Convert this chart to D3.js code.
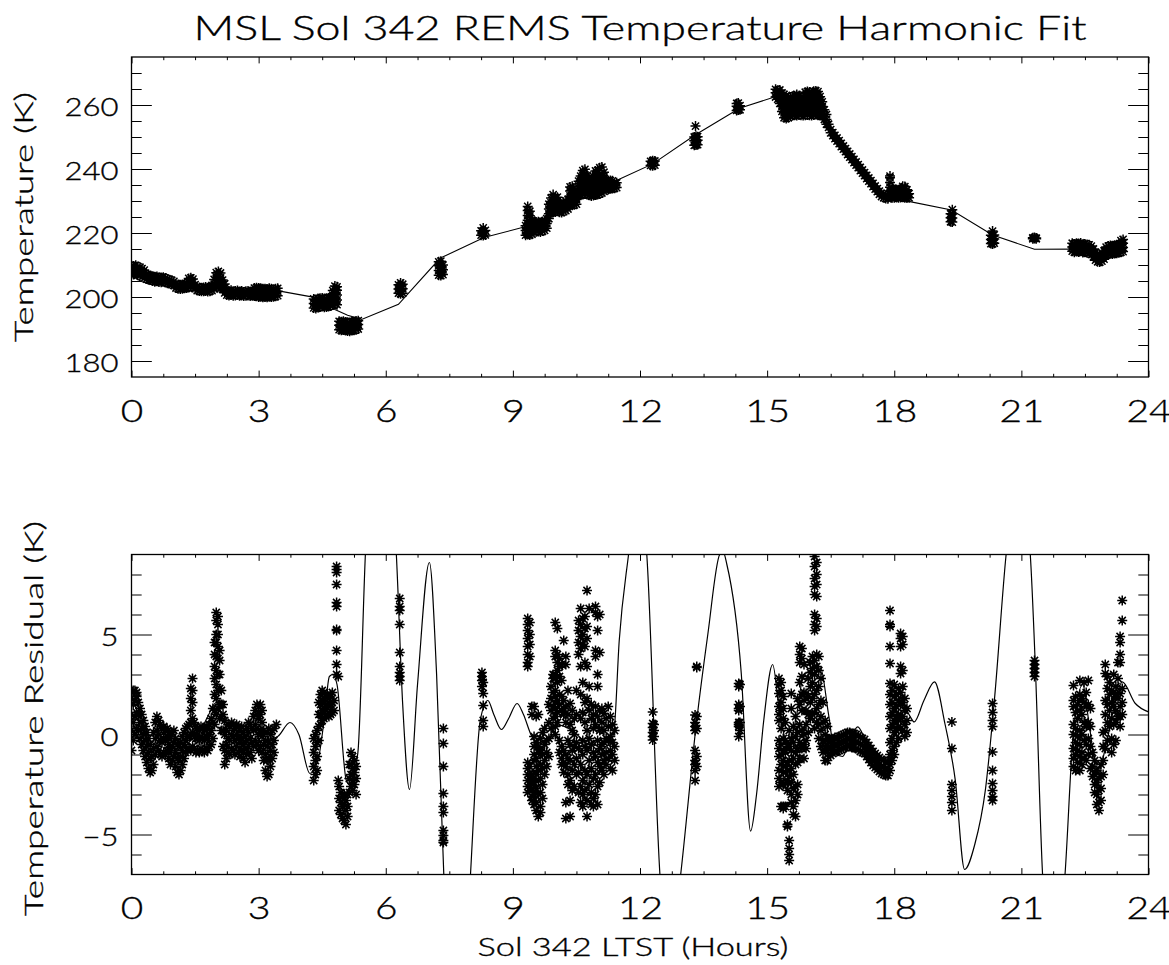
<!DOCTYPE html>
<html>
<head>
<meta charset="utf-8">
<script src="https://cdn.jsdelivr.net/npm/d3@7"></script>
<style>
  html, body { margin: 0; padding: 0; background: #fff; }
  svg { display: block; }
  text { font-family: "Lato", "DejaVu Sans", sans-serif; font-weight: 300; fill: #000; stroke: #000; stroke-width: 0.35px; }
</style>
</head>
<body>
<svg id="chart" width="1169" height="965"></svg>
<script>
// ---- Sol 342 REMS ground temperature samples: [hour, K, K, ...] per sampling instant
const tempRows = [
  [0.00,207.2,208.6,209.8],[0.05,207.0,208.5,209.7],[0.10,207.3,208.8,209.9],[0.15,206.8,208.2,209.5],
  [0.20,206.6,208.0,209.3],[0.25,206.3,207.6,208.9],[0.30,205.9,207.3,208.4],[0.35,205.6,207.0],
  [0.40,205.4,206.8],[0.45,205.3,206.7],[0.50,205.0,206.5],[0.55,204.8,206.3],[0.60,204.9,206.4],
  [0.65,204.7,206.2],[0.70,204.6,206.1],[0.75,204.8,206.2],[0.80,204.5,205.9],[0.85,204.3,205.6],
  [0.90,204.2,205.4],[0.95,203.9,205.2],[1.00,203.6,204.9],[1.05,202.8,204.2],[1.10,202.6,203.9],
  [1.15,202.5,203.8],[1.20,202.6,203.9],[1.25,202.7,204.0],[1.30,202.8,204.1],[1.35,203.0,204.6,205.8],
  [1.40,203.2,204.8,206.0],[1.45,203.0,204.5,205.6],[1.50,202.6,203.9],[1.55,202.0,203.2],[1.60,201.9,203.0],
  [1.65,201.8,202.9],[1.70,201.8,203.0],[1.75,201.9,203.1],[1.80,201.7,202.9],[1.85,201.8,203.0],
  [1.90,202.0,203.6],[1.95,202.5,204.0,205.5],[2.00,203.0,204.6,206.2,207.6],[2.05,203.2,204.8,206.4,208.0],
  [2.10,202.8,204.4,206.0,207.5],[2.15,202.4,203.9,205.3],[2.20,201.3,202.8,204.1],[2.25,200.6,202.0],
  [2.30,200.5,201.9],[2.35,200.6,202.1],[2.40,200.4,201.8],[2.45,200.5,201.9],[2.50,200.6,202.0],
  [2.55,200.4,201.7],[2.60,200.5,201.9],[2.65,200.3,201.6],[2.70,200.4,201.8],[2.75,200.5,201.9],
  [2.80,200.3,201.7],[2.85,200.4,201.8],[2.90,200.3,201.7,202.8],[2.95,200.2,201.6,202.9],
  [3.00,200.0,201.5,202.8],[3.05,200.1,201.6,202.7],[3.10,199.9,201.4,202.6],[3.15,200.0,201.5,202.6],
  [3.20,199.9,201.3,202.5],[3.25,200.1,201.5,202.7],[3.30,200.0,201.4,202.6],[3.35,200.1,201.5,202.4],
  [3.40,200.2,201.6,202.6],[3.45,200.4,201.8,202.7],
  [4.30,196.6,198.0,199.4],[4.35,196.4,197.8,199.2],[4.40,196.7,198.1,199.5],[4.45,196.9,198.3,199.6],
  [4.50,197.0,198.4,199.7],[4.55,196.8,198.2,199.5],[4.60,196.9,198.3,199.6],[4.65,197.0,198.4,199.7],
  [4.70,197.2,198.6,199.8],[4.75,197.5,199.0,200.5,202.0],[4.80,197.8,199.3,200.8,202.3,203.4],
  [4.85,197.6,199.1,200.6,202.1,203.2],
  [4.90,189.8,191.2,192.4],[4.95,189.6,191.0,192.3],[5.00,189.7,191.1,192.4],[5.05,189.5,190.9,192.2],
  [5.10,189.4,190.8,192.1],[5.15,189.3,190.7,192.0],[5.20,189.5,190.9,192.2],[5.25,189.6,191.0,192.3],
  [5.30,189.8,191.2,192.5],[5.35,190.0,191.4,192.6],
  [6.30,201.2,202.5,203.8],[6.35,201.0,202.3,203.6,204.4],[6.40,201.2,202.6,204.0],
  [7.25,206.8,208.3,209.8,211.0],[7.30,206.7,208.2,209.7,211.2],[7.35,207.0,208.5,210.0],
  [8.25,219.3,220.7],[8.30,219.2,220.6,221.6],[8.35,219.4,220.8],
  [9.30,219.3,220.8,222.3],[9.35,219.5,221.0,222.5,224.0,225.5,227.0,228.3],
  [9.40,219.4,220.9,222.4,223.9,225.4,226.8],[9.45,219.6,221.1,222.6,224.0],
  [9.50,220.3,221.8,223.3],[9.55,220.4,221.9,223.4],[9.60,220.5,222.0,223.5],[9.65,220.3,221.8,223.3],
  [9.70,220.6,222.1,223.6],[9.75,220.8,222.3,223.8],[9.80,221.5,223.0,224.5],
  [9.85,224.5,226.0,227.5,229.0],[9.90,226.4,227.9,229.4,230.9],[9.95,226.5,228.0,229.5,231.0,232.0],
  [10.00,226.6,228.1,229.6,231.1],[10.05,226.8,228.3,229.8,231.2],[10.10,226.5,228.0,229.3],
  [10.15,226.4,227.9,229.0],[10.20,226.7,228.2,229.6],[10.25,227.0,228.5,230.0],[10.30,227.5,229.0,230.5],
  [10.35,228.6,230.1,231.6,233.1,234.4],[10.40,228.7,230.2,231.7,233.2,234.6],[10.45,228.8,230.3,231.8,233.3],
  [10.50,229.0,230.5,232.0],[10.55,231.7,233.2,234.7,236.2],[10.60,231.8,233.3,234.8,236.3,237.8],
  [10.65,232.0,233.5,235.0,236.5,238.0,239.5],[10.70,232.2,233.7,235.2,236.7,238.2,239.9],
  [10.75,232.0,233.5,235.0,236.5,238.0],[10.80,231.8,233.3,234.8,236.3],[10.85,231.6,233.1,234.6,236.1],
  [10.90,231.7,233.2,234.7,236.2,237.7],[10.95,231.9,233.4,234.9,236.4,237.9,239.4],
  [11.00,232.0,233.5,235.0,236.5,238.0,239.6],[11.05,232.2,233.7,235.2,236.7,238.3,240.4],
  [11.10,232.5,234.0,235.5,237.0,238.5,240.6],[11.15,233.0,234.5,236.0,237.5,239.0],
  [11.20,233.5,235.0,236.3],[11.25,233.6,235.1,236.4],[11.30,233.8,235.3,236.4],[11.35,233.9,235.4,236.3],
  [11.40,234.0,235.5],[11.45,234.2,235.7],
  [12.25,241.1,242.4],[12.30,241.0,242.3,242.6],[12.35,241.2,242.5],
  [13.28,247.4,248.8,250.0],[13.31,253.4],[13.32,247.5,248.9,250.2],[13.36,247.6,249.0,250.1],
  [14.28,258.3,259.6,260.5],[14.32,258.4,259.7,260.6],[14.36,258.5,259.8],
  [15.20,262.5,263.8,264.9],[15.25,261.8,263.2,264.6],[15.30,260.5,262.0,263.5,264.7],
  [15.35,258.0,259.5,261.0,262.5,263.8],[15.40,256.0,257.5,259.0,260.5,262.0,263.3],
  [15.45,255.8,257.3,258.8,260.3,261.8,263.0],[15.50,256.0,257.5,259.0,260.5,262.0],
  [15.55,256.5,258.0,259.5,261.0,262.5],[15.60,256.7,258.2,259.7,261.2,262.7],
  [15.65,256.8,258.3,259.8,261.3,262.9],[15.70,256.7,258.2,259.7,261.2,262.8,263.3],
  [15.75,256.9,258.4,259.9,261.4,262.9],[15.80,256.8,258.3,259.8,261.3],
  [15.85,256.7,258.2,259.7,261.2,262.5],[15.90,256.8,258.3,259.8,261.3,262.8,264.0],
  [15.95,256.9,258.4,259.9,261.4,262.9,264.2],[16.00,256.8,258.3,259.8,261.3,262.8,264.1],
  [16.05,256.7,258.2,259.7,261.2,262.7],[16.10,256.9,258.4,259.9,261.4,262.9,264.3],
  [16.15,257.0,258.5,260.0,261.5,263.0,264.4],[16.20,256.8,258.3,259.8,261.3,262.8,264.2],
  [16.25,256.7,258.2,259.7,261.2,262.6],[16.30,256.5,258.0,259.5,261.0],[16.35,255.5,257.0,258.5],
  [16.40,254.0,255.5,257.0],
  [16.45,253.0,254.0],[16.50,251.3,252.3],[16.55,250.4,251.4],[16.60,249.5,250.5],[16.65,248.7,249.7],
  [16.70,247.9,248.9],[16.75,247.0,248.0],[16.80,246.2,247.2],[16.85,245.4,246.4],[16.90,244.5,245.5],
  [16.95,243.7,244.7],[17.00,242.9,243.9],[17.05,242.0,243.0],[17.10,241.2,242.2],[17.15,240.4,241.4],
  [17.20,239.5,240.5],[17.25,238.7,239.7],[17.30,237.9,238.9],[17.35,237.0,238.0],[17.40,236.2,237.2],
  [17.45,235.4,236.4],[17.50,234.5,235.5],[17.55,233.7,234.7],[17.60,232.9,233.9],[17.65,232.1,233.1],
  [17.70,231.4,232.4],[17.75,231.0,232.0],[17.80,230.8,231.8],[17.85,230.7,231.7],
  [17.90,231.3,232.8,234.3,235.8,237.3,237.8],[17.95,231.0,232.5,234.0],[18.00,231.0,232.5,233.5],
  [18.05,231.1,232.4,233.6],[18.10,231.0,232.3,233.5],[18.15,231.1,232.5,233.7],
  [18.20,231.2,232.6,234.0,234.6],[18.25,231.0,232.4,233.8,234.5],[18.30,230.9,232.2,233.5],
  [18.35,231.0,232.3],
  [19.33,223.5,224.8,226.0],[19.37,223.4,224.7,225.9,227.3],
  [20.28,216.7,218.0,219.3],[20.32,216.6,217.9,219.2,220.6],[20.36,216.8,218.1,219.4],
  [21.27,218.2,218.5],[21.31,218.3,218.6],[21.35,218.2,218.4],
  [22.20,214.3,215.6,216.8],[22.25,214.0,215.3,216.6],[22.30,214.2,215.5,216.8],[22.35,214.1,215.4,216.7],
  [22.40,214.3,215.6,216.9],[22.45,213.9,215.2,216.5],[22.50,214.0,215.3,216.6],[22.55,213.8,215.1,216.4],
  [22.60,213.7,215.0,216.3],[22.65,213.3,214.6,215.9],[22.70,212.5,213.8,215.0],[22.75,211.5,212.8,214.0],
  [22.80,211.0,212.3,213.4],[22.85,210.9,212.2,213.3],[22.90,211.2,212.5,213.8],[22.95,211.8,213.1,214.4],
  [23.00,213.0,214.3,215.6],[23.05,213.3,214.6,215.9],[23.10,213.5,214.8,216.1],[23.15,213.4,214.7,216.0],
  [23.20,213.6,214.9,216.2],[23.25,213.7,215.0,216.3],[23.30,213.8,215.1,216.4],
  [23.35,214.0,215.3,216.6,217.6],[23.40,214.2,215.5,216.8,218.0]
];

// ---- harmonic fit evaluated at the sample times, [hour, K]
const tempFitLine = [
  [0.00,209.0],[0.25,207.8],[0.50,206.3],[0.75,205.3],[1.00,204.4],[1.25,203.7],[1.50,203.2],
  [1.75,202.8],[2.00,202.5],[2.50,202.2],[3.00,202.0],[3.47,201.9],[4.35,199.8],[4.60,198.5],
  [4.80,196.1],[5.10,194.3],[5.43,193.0],[6.30,197.7],[7.28,212.1],[8.32,218.6],[9.22,221.7],
  [9.60,223.0],[10.00,226.0],[10.50,230.0],[11.00,233.5],[11.47,236.6],[12.30,241.6],[13.30,250.6],
  [14.35,259.0],[15.32,263.1],[15.80,262.3],[16.20,260.0],[16.45,253.5],[17.00,243.4],[17.70,231.9],
  [18.37,229.8],[19.35,227.2],[20.32,219.4],[21.31,214.9],[22.27,215.0],[22.80,213.0],[23.43,215.5]
];

// ---- residuals (sample minus fit): [hour, K, K, ...]
const residRows = [
  [0.00,-0.8,0.2,1.0,1.8],[0.04,-0.3,0.6,1.5,2.2],[0.08,0.0,0.9,1.7,2.2],[0.12,0.3,1.1,1.9,2.1],
  [0.16,0.2,1.0,1.6],[0.20,-0.2,0.6,1.3],[0.24,-0.5,0.3,1.0],[0.28,-0.8,0.0,0.7],[0.32,-1.1,-0.3,0.4],
  [0.36,-1.4,-0.6,0.1],[0.40,-1.7,-0.9,-0.2],[0.44,-1.9,-1.2,-0.5],[0.48,-1.8,-1.1],[0.52,-1.5,-0.7,0.1],
  [0.56,-1.0,-0.2,0.6],[0.60,-0.6,0.2,0.9],[0.64,-0.8,0.0,0.7],[0.68,-1.0,-0.3,0.5],[0.72,-1.1,-0.4,0.3],
  [0.76,-0.9,-0.2,0.4],[0.80,-1.0,-0.3,0.2],[0.84,-0.8,-0.1,0.3],[0.88,-1.2,-0.5,0.1],[0.92,-1.5,-0.8,-0.1],
  [0.96,-1.3,-0.6,0.1],[1.00,-1.1,-0.4,0.2],[1.04,-1.6,-0.9,-0.2],[1.08,-1.9,-1.2,-0.5],[1.12,-2.0,-1.3,-0.6],
  [1.16,-1.8,-1.1,-0.4],[1.20,-1.5,-0.8,-0.1],[1.24,-1.2,-0.5,0.1],[1.28,-0.9,-0.3,0.3],[1.32,-0.8,-0.1,0.4],
  [1.36,-0.7,-0.1,0.5],[1.40,-0.8,0.0,0.6,1.2,1.8,2.3],[1.44,-0.6,0.1,0.8,1.6,2.2,2.8],[1.48,-0.7,0.0,0.6],
  [1.52,-0.9,-0.2,0.4],[1.56,-0.8,-0.2,0.3],[1.60,-0.9,-0.3,0.2],[1.64,-0.7,-0.1,0.4],[1.68,-0.8,-0.2,0.3],
  [1.72,-0.9,-0.3,0.2],[1.76,-0.7,-0.1,0.4],[1.80,-0.8,-0.2,0.3],[1.84,-0.6,0.0,0.5],[1.88,-0.5,0.2,0.8],
  [1.92,-0.2,0.6,1.3],[1.96,0.5,1.2,2.0,2.8,3.4,4.0,4.6],[2.00,1.0,1.8,2.5,3.2,3.9,4.6,5.0,5.7,6.1],
  [2.04,1.3,2.2,3.0,3.8,4.4,5.0,5.5,5.9],[2.08,0.8,1.5,2.3,3.0,3.7,4.2],[2.12,0.2,0.9,1.5,2.2],
  [2.16,-0.6,0.2,1.0,1.5],[2.20,-1.5,-0.8,0.0,0.7],[2.24,-1.2,-0.5,0.2],[2.28,-0.9,-0.2,0.5],
  [2.32,-1.0,-0.3,0.4],[2.36,-0.7,0.0,0.6],[2.40,-0.8,-0.1,0.5],[2.44,-1.0,-0.3,0.3],[2.48,-0.6,0.0,0.5],
  [2.52,-0.9,-0.2,0.4],[2.56,-1.1,-0.4,0.2],[2.60,-0.8,-0.2,0.4],[2.64,-1.2,-0.5,0.1],[2.68,-1.4,-0.7,-0.1],
  [2.72,-1.0,-0.3,0.3],[2.76,-0.6,0.1,0.6],[2.80,-0.9,-0.2,0.5],[2.84,-1.2,-0.4,0.3],[2.88,-0.6,0.2,0.9],
  [2.92,-0.3,0.5,1.2],[2.96,-0.5,0.3,1.0,1.5],[3.00,-0.8,0.0,0.8,1.4],[3.04,-0.6,0.2,1.0,1.5],
  [3.08,-0.9,-0.1,0.6,1.2],[3.12,-1.3,-0.5,0.2],[3.16,-1.8,-1.0,-0.3],[3.20,-2.1,-1.3,-0.6,0.1],
  [3.24,-2.0,-1.2,-0.4,0.3],[3.28,-1.6,-0.8,0.0],[3.32,-1.2,-0.5,0.2],[3.36,-0.9,-0.3,0.3],[3.42,0.5],
  [4.30,-2.3,-1.6,-0.9,-0.2],[4.34,-2.0,-1.3,-0.6,0.0],[4.38,-1.8,-1.1,-0.4,0.2],[4.42,-0.3,0.4,1.0,1.6],
  [4.46,0.5,1.0,1.5,2.0],[4.50,0.7,1.2,1.7,2.2],[4.54,0.8,1.3,1.8,2.1],[4.58,0.9,1.4,1.9],[4.62,1.0,1.5,2.0],
  [4.66,0.9,1.4,1.8],[4.70,1.0,1.5,2.0],[4.74,1.1,1.6,2.1],[4.78,1.2,1.7],
  [4.84,3.0,3.5,4.2,5.2,5.25,6.4,6.6,7.5,8.1,8.25,8.4],[4.88,-2.3,2.9],
  [4.90,-2.6,-3.2,-3.8],[4.94,-2.9,-3.4,-4.0],[4.98,-3.1,-3.6,-4.2],[5.02,-3.0,-3.5,-4.3],
  [5.06,-3.3,-3.8,-4.5],[5.10,-3.0,-3.6,-4.1],[5.14,-1.5,-2.2,-2.9],[5.18,-0.9,-1.5,-2.0,-2.6],
  [5.22,-1.1,-1.7,-2.3,-2.8],[5.26,-1.3,-1.9,-2.5],[5.30,-1.6,-2.2,-3.0],
  [6.33,2.7,2.9,3.1,3.4,4.1,5.5,6.2,6.4,6.8],
  [7.36,0.3,-0.45,-1.6,-2.95,-3.6,-3.9,-4.8,-5.05,-5.3,-5.4],
  [8.27,2.4,2.7,2.9,3.1],[8.30,0.4,0.7,1.45,2.05,2.6],
  [9.35,5.8,5.5,5.2,4.8,4.4,4.0,3.6,3.4,-1.4,-1.7,-2.0,-2.3,-2.6,-2.9],
  [9.40,5.6,5.0,4.5,3.9,-1.6,-2.1,-2.5,-2.8],[9.45,1.4,1.0,-2.0,-2.4,-2.7,-3.1,-3.3],
  [9.50,1.4,-0.1,-0.6,-1.0,-1.3,-2.4,-3.0,-3.5],[9.55,0.9,-0.4,-1.2,-1.6,-2.0,-2.7,-3.4,-3.8],
  [9.60,1.0,-0.6,-0.9,-1.8,-2.3,-3.0,-4.1],[9.65,-0.2,-0.8,-1.5,-2.2,-2.9,-3.6,-3.9],
  [9.70,0.1,-1.0,-1.7,-2.5,-3.2],[9.75,0.3,-0.5,-1.3,-2.0],[9.80,-0.3,-0.9,-1.6],[9.85,1.5,0.6,-0.2,-1.1],
  [9.90,2.4,1.8,1.2,0.3],[9.95,3.0,2.8,2.1,1.4,0.8],[10.00,5.6,4.2,3.9,3.0,2.8,2.2,1.9,1.3,0.9,0.4,0.0],
  [10.05,5.3,4.0,3.6,3.2,2.6,1.7,1.1,0.6],[10.10,3.8,3.4,2.9,2.0,1.5,-0.3,-0.9],
  [10.15,3.5,2.7,1.9,1.2,-0.6,-1.2,-1.5],[10.20,4.7,1.7,1.3,1.0,-0.8,-1.4,-1.9],
  [10.25,3.9,3.5,1.4,0.6,-1.0,-1.6,-3.4,-4.2],[10.30,2.2,1.0,-0.3,-1.2,-2.0,-2.5],
  [10.35,1.55,0.5,-0.5,-1.3,-2.3,-3.3,-4.1],[10.40,1.2,0.2,-0.8,-1.8,-2.8],[10.45,0.8,0.0,-0.6,-1.5,-2.6],
  [10.50,2.2,1.0,-0.4,-1.2,-2.0],[10.55,5.7,5.2,4.6,4.0,-0.7,-1.9,-2.9],
  [10.60,6.3,5.5,4.9,4.3,3.4,2.0,0.8,-1.5,-2.6,-3.4],[10.65,5.8,5.0,4.5,2.6,1.1,-0.3,-1.0,-2.3,-3.0,-3.6],
  [10.70,5.9,5.3,4.4,3.6,1.6,0.6,-0.6,-1.8,-2.8],[10.75,7.2,5.4,4.8,3.4,1.8,0.2,-0.8,-2.0,-3.3,-4.1],
  [10.80,6.3,2.4,1.2,-0.2,-1.3,-2.5],[10.85,1.5,0.8,-0.5,-1.7,-2.9,-3.5],[10.90,1.0,0.3,-0.9,-2.2,-3.2,-3.6],
  [10.95,6.4,6.1,4.2,3.9,1.4,0.5,-1.1,-2.0,-3.0],[11.00,5.9,5.2,3.0,2.4,0.9,-0.3,-1.4,-2.6,-3.5],
  [11.05,6.0,4.1,1.2,0.2,-0.7,-1.6,-2.4],[11.10,1.3,0.6,-0.5,-1.0,-1.8],[11.15,1.05,0.2,-0.4,-1.3,-2.0],
  [11.20,0.8,-0.2,-0.9,-1.5],[11.25,1.4,0.4,-0.3,-1.2],[11.30,0.9,-0.1,-0.8,-1.7],[11.35,0.5,-0.4,-1.0,-1.8],
  [11.40,0.2,-0.6,-1.3],
  [12.30,1.13,0.55,0.35,0.1,-0.1,-0.28],[12.33,0.5,0.2,-0.1],
  [13.30,0.97,0.6,0.4,0.2,-0.8,-1.3,-1.5,-1.8,-2.3],[13.34,3.4,3.35,0.9,0.3,-1.1,-1.6],
  [14.33,2.55,2.4,1.5,1.3,1.2,0.6,0.5,0.4,-0.1],[14.36,2.5,1.4,0.6,0.2],
  [15.28,2.8,2.5,2.05,1.4,1.0,0.7,-0.3,-0.7,-1.1,-1.8,-2.2,-2.6],
  [15.33,2.6,2.2,1.6,1.2,0.3,-0.5,-1.0,-1.5,-2.4,-3.6],
  [15.38,1.9,1.3,0.8,-0.2,-0.8,-1.3,-1.9,-2.5,-3.6,-3.7],[15.43,0.6,-0.3,-0.9,-1.6,-2.45,-3.6],
  [15.48,-0.6,-1.4,-1.8,-2.3,-2.8,-4.6,-4.5],[15.52,0.2,-0.6,-1.3,-2.1,-5.3,-5.7,-6.0,-6.3],
  [15.57,1.3,2.05,-0.2,-0.8,-1.7,-2.4,-3.0,-3.4],[15.62,0.4,-0.4,-1.2,-2.0,-2.7,-3.6,-4.0],
  [15.67,0.9,-0.1,-0.9,-1.5,-2.6,-3.3,-4.1],[15.72,1.8,0.1,-0.7,-1.4,-2.5,-3.0],
  [15.77,4.4,4.0,3.6,2.6,1.5,0.5,-0.4,-1.2],[15.82,4.3,3.8,2.9,2.0,1.2,0.2,-0.7],
  [15.87,3.5,2.1,1.7,0.0,-0.5,-1.2],[15.92,2.05,1.2,0.5,-0.3,-0.7],[15.97,2.8,1.9,1.0,0.1],
  [16.02,3.6,3.1,2.4,1.6,0.8],[16.07,3.9,3.3,2.6,1.8,1.0],
  [16.12,8.9,8.4,7.8,7.4,7.0,6.0,5.5,5.2,3.7,3.0,2.0,1.1,0.3],
  [16.17,8.6,8.0,7.5,6.9,5.8,5.4,4.0,3.4,2.2,1.3,0.6],[16.22,3.9,3.2,2.4,1.5,0.5,-0.2],
  [16.27,2.8,1.7,0.9,0.2,-0.6],[16.32,1.6,0.6,-0.3,-0.9],[16.37,0.7,0.0,-0.6,-1.3],[16.42,0.4,-0.2,-0.8,-1.3],
  [16.45,-0.95,-0.6,-0.25],[16.50,-1.05,-0.7,-0.35],[16.55,-0.95,-0.6,-0.25],[16.60,-0.85,-0.5,-0.15],
  [16.65,-0.85,-0.5,-0.15],[16.70,-0.80,-0.45,-0.10],[16.75,-0.75,-0.4,-0.05],[16.80,-0.70,-0.35,0.00],
  [16.85,-0.65,-0.3,0.05],[16.90,-0.60,-0.25,0.10],[16.95,-0.60,-0.25,0.10],[17.00,-0.65,-0.3,0.05],
  [17.05,-0.65,-0.3,0.05],[17.10,-0.70,-0.35,0.00],[17.15,-0.75,-0.4,-0.05],[17.20,-0.85,-0.5,-0.15],
  [17.25,-0.90,-0.55,-0.20],[17.30,-0.95,-0.6,-0.25],[17.35,-1.10,-0.75,-0.40],[17.40,-1.25,-0.9,-0.55],
  [17.45,-1.40,-1.05,-0.70],[17.50,-1.55,-1.2,-0.85],[17.55,-1.65,-1.3,-0.95],[17.60,-1.75,-1.4,-1.05],
  [17.65,-1.85,-1.5,-1.15],[17.70,-1.95,-1.6,-1.25],[17.75,-2.00,-1.65,-1.30],[17.80,-2.05,-1.7,-1.35],
  [17.85,-2.05,-1.7,-1.35],
  [17.90,6.2,5.5,5.4,4.4,3.55,2.55,2.0,1.5,0.9,0.3,-0.4,-1.0,-1.5,-1.8],
  [17.95,2.2,1.6,1.1,0.5,-0.2,-0.8,-1.3],[18.00,2.5,1.9,1.3,0.7,0.1,-0.6,-1.0],
  [18.05,2.0,1.4,0.8,0.2,-0.4],[18.10,2.3,1.7,1.0,0.4,-0.2],[18.15,5.05,4.8,4.4,3.4,3.05,2.1,1.5,0.8,0.3],
  [18.20,4.9,4.5,3.2,2.4,1.6,0.9,0.2],[18.25,1.8,1.2,0.5,-0.1],[18.30,1.3,0.7,0.1],
  [19.36,0.63,-0.7,-2.5,-2.8,-3.1,-3.4,-3.8],
  [20.32,1.55,1.1,0.7,0.4,-0.87,-1.8,-2.45,-2.8,-3.1,-3.3],
  [21.31,3.7,3.5,3.3,3.1,2.9],
  [22.23,2.45,1.7,1.4,0.5,0.0,-0.7,-1.2,-1.6],[22.28,1.9,1.1,0.3,-0.4,-1.0,-1.8],
  [22.33,1.5,0.8,-0.1,-0.8,-1.4],[22.38,2.7,2.0,1.2,0.2,-0.5,-1.1,-1.8],[22.43,1.8,1.0,0.0,-0.9,-1.5],
  [22.48,2.6,1.6,0.6,-0.3,-1.2],[22.53,2.1,1.4,0.4,-0.5,-1.3],[22.58,2.7,1.5,0.6,-0.2,-1.0],
  [22.63,1.3,0.4,-0.6,-1.7],[22.68,-0.9,-1.6,-2.1],[22.73,-1.3,-2.0,-2.5,-2.9],[22.78,-1.8,-2.4,-3.0,-3.5],
  [22.83,-2.2,-2.8,-3.4,-3.8],[22.88,-1.5,-2.1,-2.7,-3.3],[22.93,0.1,-0.6,-1.3,-2.0],
  [22.98,3.5,3.05,1.7,1.0,0.2,-0.7],[23.03,2.9,2.3,1.5,0.6,-0.3],[23.08,2.6,2.0,1.2,0.4],
  [23.13,2.2,1.6,0.8,-0.2,-0.9],[23.18,3.0,2.1,1.4,0.5,-0.5],[23.23,2.4,1.9,1.2,0.6,-0.3],
  [23.28,3.6,2.8,1.8,0.9],[23.33,4.9,4.6,4.0,3.6,2.05,1.4,0.9,0.4],[23.38,6.7,5.7,2.3,1.6,1.0]
];

// ---- harmonic fit to the residuals, [hour, K]
const residCurve = [
  [0.00,0.8],[0.25,0.6],[0.50,-0.5],[0.80,-0.3],[1.10,-0.8],[1.40,-0.3],[1.60,0.1],[1.80,0.9],
  [2.00,1.6],[2.20,0.5],[2.50,-0.3],[2.80,-0.4],[3.10,-0.3],[3.45,-0.1],[3.74,0.6],[3.95,0.0],
  [4.21,-1.95],[4.40,-1.3],[4.55,0.8],[4.67,2.9],[4.75,3.0],[4.85,2.5],[5.07,-2.3],[5.15,-2.5],
  [5.34,-0.95],[5.52,9.05],[5.70,16.0],[5.90,18.0],[6.10,14.0],[6.25,9.0],[6.40,1.5],[6.56,-2.75],
  [6.75,2.5],[7.03,8.6],[7.20,3.0],[7.37,-7.0],[7.55,-13.0],[7.75,-14.0],[7.90,-11.0],[8.00,-7.0],
  [8.23,0.7],[8.41,1.7],[8.55,1.0],[8.73,0.25],[8.90,0.8],[9.10,1.55],[9.25,1.0],[9.45,-0.1],
  [9.70,-0.5],[10.08,0.47],[10.40,0.2],[10.80,-0.5],[11.20,-0.6],[11.38,0.05],[11.51,4.7],[11.73,9.0],
  [11.95,12.5],[12.16,9.0],[12.47,-7.0],[12.70,-11.5],[12.96,-7.0],[13.33,0.55],[13.60,5.0],[13.88,9.0],
  [13.96,9.15],[14.05,8.5],[14.39,3.05],[14.61,-4.83],[14.75,-3.0],[14.92,0.7],[15.13,3.5],[15.30,1.0],
  [15.50,-0.5],[15.70,1.0],[15.85,2.9],[16.10,3.3],[16.25,3.4],[16.45,1.0],[16.60,-0.95],[16.78,-1.1],
  [16.95,-0.3],[17.14,0.38],[17.30,-0.2],[17.50,-1.1],[17.85,-1.95],[18.00,0.2],[18.11,1.9],[18.25,1.4],
  [18.38,0.88],[18.47,0.63],[18.70,1.7],[18.95,2.63],[19.20,0.5],[19.44,-2.28],[19.66,-6.75],[19.90,-5.5],
  [20.15,-2.78],[20.37,1.88],[20.64,9.0],[20.93,13.5],[21.21,9.0],[21.33,3.38],[21.50,-7.0],[21.77,-12.5],
  [22.03,-7.0],[22.23,0.2],[22.45,2.5],[22.60,0.5],[22.80,-1.95],[23.00,-0.5],[23.20,1.5],[23.38,2.63],
  [23.69,1.55],[24.00,1.13]
];

// ---- axis ticks and labels
const hourTicks = [0, 3, 6, 9, 12, 15, 18, 21, 24];
const hourMinorTicks = d3.range(0, 24.001, 0.75).filter(h => h % 3 !== 0);
const tempTicks = [180, 200, 220, 240, 260];
const tempMinorTicks = [185, 190, 195, 205, 210, 215, 225, 230, 235, 245, 250, 255, 265, 270];
const residTicks = [-5, 0, 5];
const residMinorTicks = [-6, -4, -3, -2, -1, 1, 2, 3, 4, 6, 7, 8];

const titleText = "MSL Sol 342 REMS Temperature Harmonic Fit";
const xTitleText = "Sol 342 LTST (Hours)";
const tempTitleText = "Temperature (K)";
const residTitleText = "Temperature Residual (K)";

// ---- layout
const svg = d3.select("#chart");
const plotLeft = 131.5, plotRight = 1148.5;
const topPanel = { top: 57, bottom: 377 };
const botPanel = { top: 554.5, bottom: 874.5 };

const x = d3.scaleLinear().domain([0, 24]).range([plotLeft, plotRight]);
const yTemp = d3.scaleLinear().domain([175, 275]).range([topPanel.bottom, topPanel.top]);
const yResid = d3.scaleLinear().domain([-7, 9]).range([botPanel.bottom, botPanel.top]);

svg.append("rect").attr("width", 1169).attr("height", 965).attr("fill", "#fff");

// clip regions for each panel
const defs = svg.append("defs");
[["clipTop", topPanel], ["clipBot", botPanel]].forEach(([id, p]) => {
  defs.append("clipPath").attr("id", id).append("rect")
    .attr("x", plotLeft).attr("y", p.top)
    .attr("width", plotRight - plotLeft).attr("height", p.bottom - p.top);
});

// IDL-style asterisk (psym=2): plus and cross overlaid
function asteriskPath(px, py) {
  const s = 5, d = 3.6;
  return `M${px - s},${py}h${2 * s}M${px},${py - s}v${2 * s}` +
         `M${px - d},${py - d}l${2 * d},${2 * d}M${px - d},${py + d}l${2 * d},${-2 * d}`;
}

function flatten(rows) {
  const pts = [];
  rows.forEach(r => { for (let i = 1; i < r.length; i++) pts.push([r[0], r[i]]); });
  return pts;
}

// stretch tick labels horizontally to a fixed advance per character
function stretchLabels(sel, size, advance) {
  sel.attr("font-size", size).each(function () {
    const n = this.textContent.length;
    if (n > 0) d3.select(this).attr("textLength", n * advance).attr("lengthAdjust", "spacingAndGlyphs");
  });
}

function drawFrame(p, yScale, major, minor, labelFmt) {
  const g = svg.append("g").attr("class", "frame");
  const xMajorLen = 0.02 * (p.bottom - p.top);
  const yMajorLen = 0.02 * (plotRight - plotLeft);

  // bottom and top x axes (ticks inward)
  const xLab = g.append("g").attr("transform", `translate(0,${p.bottom})`)
    .call(d3.axisBottom(x).tickValues(hourTicks).tickSize(-xMajorLen).tickSizeOuter(0).tickFormat(d => d).tickPadding(22));
  g.append("g").attr("transform", `translate(0,${p.bottom})`)
    .call(d3.axisBottom(x).tickValues(hourMinorTicks).tickSize(-xMajorLen / 2).tickSizeOuter(0).tickFormat(""));
  g.append("g").attr("transform", `translate(0,${p.top})`)
    .call(d3.axisTop(x).tickValues(hourTicks).tickSize(-xMajorLen).tickSizeOuter(0).tickFormat(""));
  g.append("g").attr("transform", `translate(0,${p.top})`)
    .call(d3.axisTop(x).tickValues(hourMinorTicks).tickSize(-xMajorLen / 2).tickSizeOuter(0).tickFormat(""));

  // left and right y axes (ticks inward)
  const yLab = g.append("g").attr("transform", `translate(${plotLeft},0)`)
    .call(d3.axisLeft(yScale).tickValues(major).tickSize(-yMajorLen).tickSizeOuter(0).tickFormat(labelFmt).tickPadding(13));
  g.append("g").attr("transform", `translate(${plotLeft},0)`)
    .call(d3.axisLeft(yScale).tickValues(minor).tickSize(-yMajorLen / 2).tickSizeOuter(0).tickFormat(""));
  g.append("g").attr("transform", `translate(${plotRight},0)`)
    .call(d3.axisRight(yScale).tickValues(major).tickSize(-yMajorLen).tickSizeOuter(0).tickFormat(""));
  g.append("g").attr("transform", `translate(${plotRight},0)`)
    .call(d3.axisRight(yScale).tickValues(minor).tickSize(-yMajorLen / 2).tickSizeOuter(0).tickFormat(""));

  g.selectAll(".domain").remove();
  g.selectAll(".tick line").attr("stroke", "#000").attr("stroke-width", 1);
  g.selectAll("text").attr("font-family", null).attr("fill", "#000");

  stretchLabels(xLab.selectAll(".tick text").attr("dy", "0.71em"), 32, 22.5);
  stretchLabels(yLab.selectAll(".tick text").attr("dy", "0.42em"), 25, 18);

  g.append("rect").attr("x", plotLeft).attr("y", p.top)
    .attr("width", plotRight - plotLeft).attr("height", p.bottom - p.top)
    .attr("fill", "none").attr("stroke", "#000").attr("stroke-width", 1.3);
}

// ---- top panel: temperatures and fit
const topData = flatten(tempRows);
svg.append("g").attr("clip-path", "url(#clipTop)")
  .append("path")
  .attr("d", topData.map(d => asteriskPath(x(d[0]), yTemp(d[1]))).join(""))
  .attr("fill", "none").attr("stroke", "#000").attr("stroke-width", 1.5);

svg.append("path")
  .datum(tempFitLine)
  .attr("clip-path", "url(#clipTop)")
  .attr("d", d3.line().x(d => x(d[0])).y(d => yTemp(d[1])))
  .attr("fill", "none").attr("stroke", "#000").attr("stroke-width", 1.1);

drawFrame(topPanel, yTemp, tempTicks, tempMinorTicks, d => d);

// ---- bottom panel: residuals and their fit
const botData = flatten(residRows);
svg.append("g").attr("clip-path", "url(#clipBot)")
  .append("path")
  .attr("d", botData.map(d => asteriskPath(x(d[0]), yResid(d[1]))).join(""))
  .attr("fill", "none").attr("stroke", "#000").attr("stroke-width", 1.5);

svg.append("path")
  .datum(residCurve)
  .attr("clip-path", "url(#clipBot)")
  .attr("d", d3.line().curve(d3.curveMonotoneX).x(d => x(d[0])).y(d => yResid(d[1])))
  .attr("fill", "none").attr("stroke", "#000").attr("stroke-width", 1.2);

drawFrame(botPanel, yResid, residTicks, residMinorTicks, d => (d < 0 ? "\u2212" + Math.abs(d) : d));

// ---- titles
svg.append("text").attr("x", 640).attr("y", 39.5)
  .attr("text-anchor", "middle").attr("font-size", 33)
  .attr("textLength", 893).attr("lengthAdjust", "spacingAndGlyphs")
  .text(titleText);

svg.append("text").attr("x", 633).attr("y", 956)
  .attr("text-anchor", "middle").attr("font-size", 25)
  .attr("textLength", 311).attr("lengthAdjust", "spacingAndGlyphs")
  .text(xTitleText);

svg.append("text")
  .attr("transform", `translate(33,${(topPanel.top + topPanel.bottom) / 2}) rotate(-90)`)
  .attr("text-anchor", "middle").attr("font-size", 25)
  .attr("textLength", 250).attr("lengthAdjust", "spacingAndGlyphs")
  .text(tempTitleText);

svg.append("text")
  .attr("transform", `translate(43,${(botPanel.top + botPanel.bottom) / 2 + 4}) rotate(-90)`)
  .attr("text-anchor", "middle").attr("font-size", 25)
  .attr("textLength", 395).attr("lengthAdjust", "spacingAndGlyphs")
  .text(residTitleText);
</script>
</body>
</html>
